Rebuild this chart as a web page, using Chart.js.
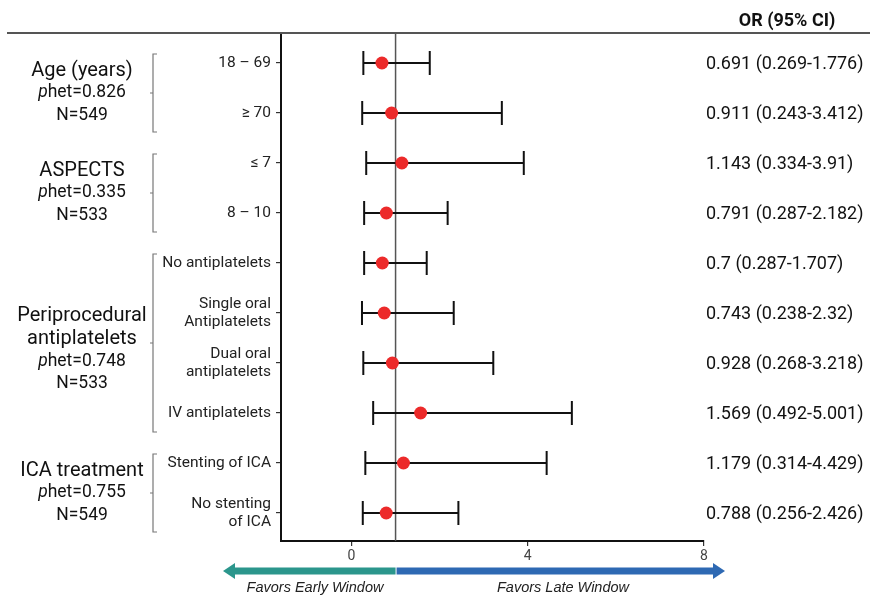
<!DOCTYPE html>
<html>
<head>
<meta charset="utf-8">
<script src="https://cdn.jsdelivr.net/npm/chart.js@4/dist/chart.umd.min.js"></script>
<style>
html,body{margin:0;padding:0;background:#fff;}
#wrap{width:870px;height:599px;position:relative;}
</style>
</head>
<body>
<div id="wrap"><canvas id="c"></canvas></div>
<script>
// ---- data ----
const rowLabels = ['18 – 69', '≥ 70', '≤ 7', '8 – 10', 'No antiplatelets', ['Single oral', 'Antiplatelets'], ['Dual oral', 'antiplatelets'], 'IV antiplatelets', 'Stenting of ICA', ['No stenting', 'of ICA']];
const orValues = [0.691, 0.911, 1.143, 0.791, 0.7, 0.743, 0.928, 1.569, 1.179, 0.788];
const ciLow = [0.269, 0.243, 0.334, 0.287, 0.287, 0.238, 0.268, 0.492, 0.314, 0.256];
const ciHigh = [1.776, 3.412, 3.91, 2.182, 1.707, 2.32, 3.218, 5.001, 4.429, 2.426];
const groupTitles = [['Age (years)'], ['ASPECTS'], ['Periprocedural', 'antiplatelets'], ['ICA treatment']];
const groupPhet = ['0.826', '0.335', '0.748', '0.755'];
const groupN = ['549', '533', '533', '549'];
const groupFirstRow = [0, 2, 4, 8];
const groupLastRow = [1, 3, 7, 9];
const xTicks = [0, 4, 8];
const refValue = 1;
const headerText = 'OR (95% CI)';
const leftArrowText = 'Favors Early Window';
const rightArrowText = 'Favors Late Window';

const FONT = 'Roboto, "Noto Sans", sans-serif';

const forestPlugin = {
  id: 'forest',
  beforeDatasetsDraw(chart) {
    const ctx = chart.ctx, xs = chart.scales.x, ys = chart.scales.y, ca = chart.chartArea;
    ctx.save();
    const xr = xs.getPixelForValue(refValue);
    ctx.strokeStyle = '#555';
    ctx.lineWidth = 1.5;
    ctx.beginPath(); ctx.moveTo(xr, ca.top); ctx.lineTo(xr, ca.bottom); ctx.stroke();
    ctx.strokeStyle = '#111';
    ctx.lineWidth = 2;
    for (let i = 0; i < orValues.length; i++) {
      const y = ys.getPixelForValue(i);
      const x1 = xs.getPixelForValue(ciLow[i]), x2 = xs.getPixelForValue(ciHigh[i]);
      ctx.beginPath();
      ctx.moveTo(x1, y); ctx.lineTo(x2, y);
      ctx.moveTo(x1, y - 12); ctx.lineTo(x1, y + 12);
      ctx.moveTo(x2, y - 12); ctx.lineTo(x2, y + 12);
      ctx.stroke();
    }
    ctx.restore();
  },
  afterDraw(chart) {
    const ctx = chart.ctx, xs = chart.scales.x, ys = chart.scales.y, ca = chart.chartArea;
    ctx.save();
    // top rule
    ctx.strokeStyle = '#555';
    ctx.lineWidth = 2.2;
    ctx.beginPath(); ctx.moveTo(7, ca.top); ctx.lineTo(870, ca.top); ctx.stroke();
    // header
    ctx.fillStyle = '#111';
    ctx.font = 'bold 18px ' + FONT;
    ctx.textAlign = 'center'; ctx.textBaseline = 'middle';
    ctx.fillText(headerText, 787, 21);
    // right column
    ctx.font = '18px ' + FONT;
    ctx.textAlign = 'left';
    for (let i = 0; i < orValues.length; i++) {
      const y = ys.getPixelForValue(i);
      ctx.fillText(orValues[i] + ' (' + ciLow[i] + '-' + ciHigh[i] + ')', 706, y + 1);
    }
    // groups
    const cx = 82, bx = 153;
    for (let g = 0; g < groupTitles.length; g++) {
      const top = ys.getPixelForValue(groupFirstRow[g]) - 9;
      const bot = ys.getPixelForValue(groupLastRow[g]) + 19;
      const mid = (top + bot) / 2;
      ctx.strokeStyle = '#777'; ctx.lineWidth = 1.2;
      ctx.beginPath();
      ctx.moveTo(bx + 4, top); ctx.lineTo(bx, top); ctx.lineTo(bx, bot); ctx.lineTo(bx + 4, bot);
      ctx.moveTo(bx, mid); ctx.lineTo(bx - 3, mid);
      ctx.stroke();
      const titles = groupTitles[g];
      const n = titles.length + 2;
      const gap = 22.5;
      const center = mid + (n - 3) * 7;
      let y = center - (n - 1) * gap / 2;
      ctx.fillStyle = '#111';
      ctx.textAlign = 'center';
      ctx.font = '20px ' + FONT;
      for (const t of titles) { ctx.fillText(t, cx, y); y += gap; }
      ctx.font = 'italic 17.5px ' + FONT;
      const pw = ctx.measureText('p').width;
      ctx.font = '17.5px ' + FONT;
      const rest = 'het=' + groupPhet[g];
      const rw = ctx.measureText(rest).width;
      const sx = cx - (pw + rw) / 2;
      ctx.textAlign = 'left';
      ctx.font = 'italic 17.5px ' + FONT;
      ctx.fillText('p', sx, y);
      ctx.font = '17.5px ' + FONT;
      ctx.fillText(rest, sx + pw, y);
      y += gap;
      ctx.textAlign = 'center';
      ctx.fillText('N=' + groupN[g], cx, y);
    }
    // arrows
    const xj = xs.getPixelForValue(refValue);
    const ay = 571, half = 3.5, headH = 8, headL = 12;
    ctx.fillStyle = '#2B968C';
    ctx.beginPath();
    ctx.moveTo(xj, ay - half); ctx.lineTo(223 + headL, ay - half); ctx.lineTo(223 + headL, ay - headH);
    ctx.lineTo(223, ay); ctx.lineTo(223 + headL, ay + headH); ctx.lineTo(223 + headL, ay + half);
    ctx.lineTo(xj, ay + half); ctx.closePath(); ctx.fill();
    ctx.fillStyle = '#2E69B3';
    ctx.beginPath();
    ctx.moveTo(xj + 1, ay - half); ctx.lineTo(725 - headL, ay - half); ctx.lineTo(725 - headL, ay - headH);
    ctx.lineTo(725, ay); ctx.lineTo(725 - headL, ay + headH); ctx.lineTo(725 - headL, ay + half);
    ctx.lineTo(xj + 1, ay + half); ctx.closePath(); ctx.fill();
    ctx.fillStyle = '#222';
    ctx.font = 'italic 14.5px "Liberation Sans", Arial, sans-serif';
    ctx.textAlign = 'center';
    ctx.fillText(leftArrowText, 315, 588);
    ctx.fillText(rightArrowText, 563, 588);
    ctx.restore();
  }
};

new Chart(document.getElementById('c'), {
  type: 'scatter',
  data: {
    datasets: [{
      data: orValues.map((v, i) => ({ x: v, y: i })),
      backgroundColor: '#EC2A2A',
      borderColor: '#EC2A2A',
      pointRadius: 6.5,
      pointHoverRadius: 6.5,
      borderWidth: 0
    }]
  },
  options: {
    responsive: true,
    maintainAspectRatio: false,
    animation: false,
    events: [],
    layout: { padding: { top: 33, right: 166, bottom: 0, left: 0 } },
    plugins: { legend: { display: false }, tooltip: { enabled: false } },
    scales: {
      x: {
        type: 'linear',
        min: -1.6,
        max: 8,
        afterBuildTicks(scale) { scale.ticks = xTicks.map(v => ({ value: v })); },
        afterFit(scale) { scale.height = 58; },
        grid: { drawOnChartArea: false, drawTicks: true, tickLength: 5, color: '#333', lineWidth: 1.2 },
        border: { display: true, color: '#111', width: 2 },
        ticks: { color: '#444', font: { family: FONT, size: 14 }, padding: 2 }
      },
      y: {
        type: 'linear',
        reverse: true,
        min: -0.6,
        max: 9.56,
        afterBuildTicks(scale) { scale.ticks = rowLabels.map((_, i) => ({ value: i })); },
        afterFit(scale) { scale.width = 281; },
        grid: { drawOnChartArea: false, drawTicks: true, tickLength: 5, color: '#333', lineWidth: 1.2 },
        border: { display: true, color: '#111', width: 2 },
        ticks: {
          color: '#222',
          font: { family: FONT, size: 15.5, lineHeight: 1.15 },
          padding: 5,
          callback: (v) => rowLabels[v]
        }
      }
    }
  },
  plugins: [forestPlugin]
});
</script>
</body>
</html>
